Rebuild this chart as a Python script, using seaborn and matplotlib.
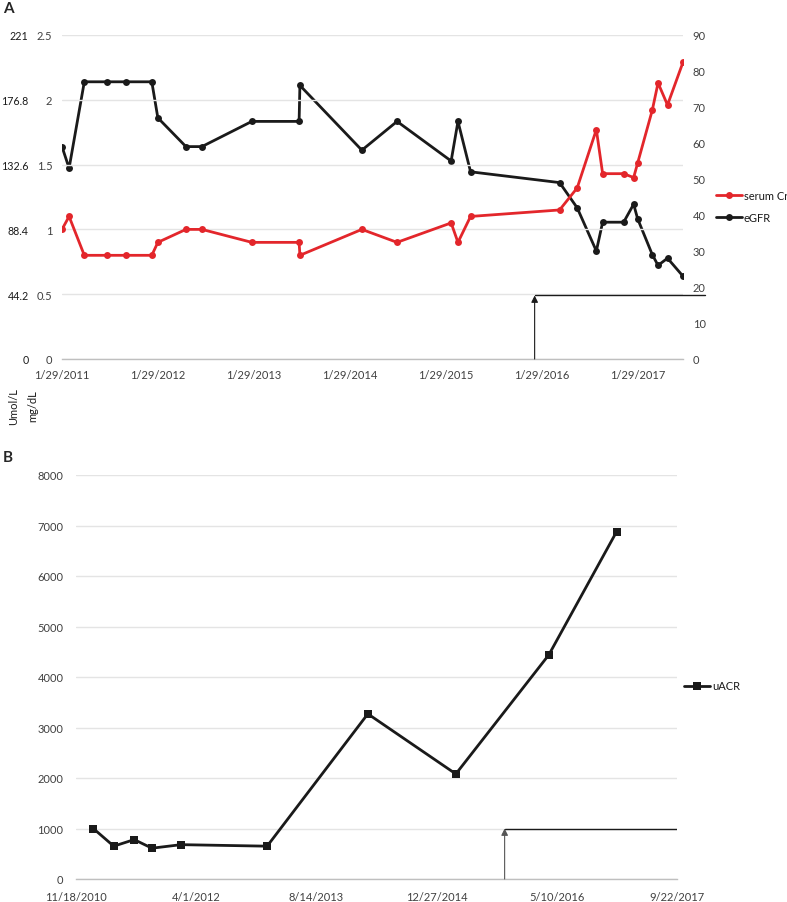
import datetime as dt

import matplotlib
matplotlib.use("Agg")
import matplotlib.pyplot as plt
import matplotlib.dates as mdates
from matplotlib.lines import Line2D
import pandas as pd
import seaborn as sns

# ---- panel A data ----
dates_a = pd.to_datetime([
    "2011-01-29", "2011-02-25", "2011-04-24", "2011-07-18", "2011-09-30",
    "2012-01-06", "2012-01-29", "2012-05-15", "2012-07-15", "2013-01-21",
    "2013-07-20", "2013-07-23", "2014-03-16", "2014-07-28", "2015-02-19",
    "2015-03-17", "2015-05-04", "2016-04-07", "2016-06-13", "2016-08-25",
    "2016-09-18", "2016-12-07", "2017-01-14", "2017-01-29", "2017-03-26",
    "2017-04-17", "2017-05-23", "2017-07-21",
])
serum_cr = [1.0, 1.1, 0.8, 0.8, 0.8, 0.8, 0.9, 1.0, 1.0, 0.9,
            0.9, 0.8, 1.0, 0.9, 1.05, 0.9, 1.1, 1.15, 1.32, 1.77,
            1.43, 1.43, 1.40, 1.51, 1.92, 2.13, 1.96, 2.29]
egfr = [59, 53, 77, 77, 77, 77, 67, 59, 59, 66,
        66, 76, 58, 66, 55, 66, 52, 49, 42, 30,
        38, 38, 43, 39, 29, 26, 28, 23]

ticks_a = pd.to_datetime(["2011-01-29", "2012-01-29", "2013-01-29", "2014-01-29",
                          "2015-01-29", "2016-01-29", "2017-01-29"])
tick_labels_a = ["1/29/2011", "1/29/2012", "1/29/2013", "1/29/2014",
                 "1/29/2015", "1/29/2016", "1/29/2017"]
mgdl_ticks = [0, 0.5, 1, 1.5, 2, 2.5]
mgdl_labels = ["0", "0.5", "1", "1.5", "2", "2.5"]
umol_labels = ["0", "44.2", "88.4", "132.6", "176.8", "221"]
egfr_ticks = list(range(0, 91, 10))

arrow_a_date = pd.Timestamp("2016-01-03")
arrow_a_level = 0.49
arrow_a_end = pd.Timestamp("2017-10-11")

# ---- panel B data ----
dates_b = pd.to_datetime([
    "2011-01-29", "2011-04-24", "2011-07-18", "2011-09-30", "2012-01-29",
    "2013-01-21", "2014-03-16", "2015-03-17", "2016-04-07", "2017-01-14",
])
uacr = [1000, 650, 780, 610, 680, 650, 3270, 2080, 4440, 6880]

ticks_b = pd.to_datetime(["2010-11-18", "2012-04-01", "2013-08-14",
                          "2014-12-27", "2016-05-10", "2017-09-22"])
tick_labels_b = ["11/18/2010", "4/1/2012", "8/14/2013",
                 "12/27/2014", "5/10/2016", "9/22/2017"]
uacr_ticks = list(range(0, 8001, 1000))

arrow_b_date = pd.Timestamp("2015-10-06")
arrow_b_level = 1000

RED = "#e3262b"
BLACK = "#1a1a1a"
GRID = "#e4e4e4"
TXT = "#404040"

sns.set_style("white")
plt.rcParams["font.family"] = ["Lato", "DejaVu Sans"]
plt.rcParams["font.size"] = 8

W, H = 787, 903
fig = plt.figure(figsize=(W / 100, H / 100), dpi=100)


def box(l, t, r, b):
    return [l / W, 1 - b / H, (r - l) / W, (b - t) / H]


def style_axis(ax):
    for s in ("top", "right", "left"):
        ax.spines[s].set_visible(False)
    ax.spines["bottom"].set_color("#bfbfbf")
    ax.spines["bottom"].set_linewidth(1)
    ax.grid(axis="y", color=GRID, linewidth=1)
    ax.set_axisbelow(True)
    ax.tick_params(axis="x", length=3, color="#bfbfbf", colors=TXT, pad=4)
    ax.tick_params(axis="y", length=0, colors=TXT)


# ================= panel A =================
ax = fig.add_axes(box(62, 36, 683, 360))
ax2 = ax.twinx()

sns.lineplot(x=dates_a, y=serum_cr, ax=ax, color=RED, marker="o", markersize=5,
             markeredgewidth=0, linewidth=2, sort=False, estimator=None)
sns.lineplot(x=dates_a, y=egfr, ax=ax2, color=BLACK, marker="o", markersize=5,
             markeredgewidth=0, linewidth=2, sort=False, estimator=None)
ax.set_zorder(ax2.get_zorder() + 1)
ax.patch.set_visible(False)

style_axis(ax)
ax.set_ylim(0, 2.5)
ax.set_yticks(mgdl_ticks, labels=mgdl_labels)
ax.tick_params(axis="y", pad=7)
ax.set_xlim(dates_a[0], dates_a[-1])
ax.set_xticks(ticks_a, labels=tick_labels_a)
ax.set_xlabel("")
ax.set_ylabel("")

for s in ax2.spines.values():
    s.set_visible(False)
ax2.set_ylim(0, 90)
ax2.set_yticks(egfr_ticks)
ax2.tick_params(axis="y", length=0, colors=TXT, pad=7)
ax2.grid(False)
ax2.set_ylabel("")

sec = ax.secondary_yaxis("left", functions=(lambda v: v * 88.4, lambda v: v / 88.4))
sec.set_yticks([t * 88.4 for t in mgdl_ticks], labels=umol_labels)
sec.tick_params(length=0, pad=24, colors="#1a1a1a", labelsize=7.7)
sec.spines["left"].set_visible(False)

# arrow annotation
ax.plot([arrow_a_date, arrow_a_end], [arrow_a_level, arrow_a_level],
        color=BLACK, linewidth=1, clip_on=False)
ax.annotate("", xy=(arrow_a_date, arrow_a_level), xytext=(arrow_a_date, 0),
            arrowprops=dict(arrowstyle="-|>", color=BLACK, linewidth=0.8,
                            mutation_scale=10, shrinkA=0, shrinkB=0))

fig.text(3 / W, 1 - 9 / H, "A", fontsize=11, fontweight="bold", va="center")
fig.text(14 / W, 1 - 407 / H, "Umol/L", rotation=90, ha="center", va="center",
         fontsize=8, color="#1a1a1a")
fig.text(33 / W, 1 - 406 / H, "mg/dL", rotation=90, ha="center", va="center",
         fontsize=8, color="#1a1a1a")

handles_a = [Line2D([], [], color=RED, marker="o", markersize=5, linewidth=2,
                    markeredgewidth=0),
             Line2D([], [], color=BLACK, marker="o", markersize=5, linewidth=2,
                    markeredgewidth=0)]
fig.legend(handles_a, ["serum Cr", "eGFR"], loc="upper left",
           bbox_to_anchor=(716 / W, 1 - 191 / H), frameon=False, fontsize=8,
           handlelength=2.3, handletextpad=0.2, labelspacing=0.95, borderpad=0,
           borderaxespad=0, labelcolor="#1a1a1a")

# ================= panel B =================
bx = fig.add_axes(box(76, 476, 677, 880))
sns.lineplot(x=dates_b, y=uacr, ax=bx, color=BLACK, marker="s", markersize=5.5,
             markeredgewidth=0, linewidth=2, sort=False, estimator=None)
style_axis(bx)
bx.set_ylim(0, 8000)
bx.set_yticks(uacr_ticks)
bx.tick_params(axis="y", pad=9)
bx.set_xlim(ticks_b[0], ticks_b[-1])
bx.set_xticks(ticks_b, labels=tick_labels_b)
bx.tick_params(axis="x", pad=6)
bx.set_xlabel("")
bx.set_ylabel("")

bx.plot([arrow_b_date, ticks_b[-1]], [arrow_b_level, arrow_b_level],
        color=BLACK, linewidth=1)
bx.annotate("", xy=(arrow_b_date, arrow_b_level), xytext=(arrow_b_date, 0),
            arrowprops=dict(arrowstyle="-|>", color="#555555", linewidth=0.8,
                            mutation_scale=10, shrinkA=0, shrinkB=0))

fig.text(3 / W, 1 - 458 / H, "B", fontsize=11, fontweight="bold", va="center")

handles_b = [Line2D([], [], color=BLACK, marker="s", markersize=5.5, linewidth=2,
                    markeredgewidth=0)]
fig.legend(handles_b, ["uACR"], loc="center left",
           bbox_to_anchor=(684 / W, 1 - 687 / H), frameon=False, fontsize=8,
           handlelength=2.3, handletextpad=0.2, borderpad=0, borderaxespad=0,
           labelcolor="#1a1a1a")

fig.savefig("out.png", dpi=100)
